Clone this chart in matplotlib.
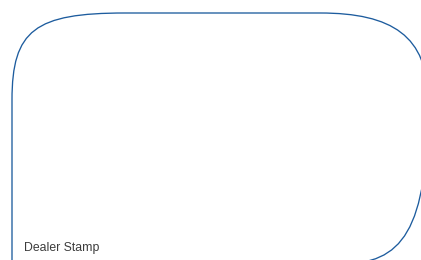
import matplotlib
matplotlib.use("Agg")
import matplotlib.pyplot as plt
from matplotlib.path import Path
from matplotlib.patches import PathPatch

W, H = 421, 260
label = "Dealer Stamp"
line_color = "#1d5c9e"
text_color = "#3c3c3c"

# outline vertices in pixel space (y down)
verts = [
    (12, 275),
    (12, 100),
    (12, 30), (35, 13), (125, 13),
    (320, 13),
    (392, 13), (428, 36), (428, 100),
    (428, 160),
    (428, 232), (402, 264), (340, 264),
]
codes = [Path.MOVETO, Path.LINETO,
         Path.CURVE4, Path.CURVE4, Path.CURVE4,
         Path.LINETO,
         Path.CURVE4, Path.CURVE4, Path.CURVE4,
         Path.LINETO,
         Path.CURVE4, Path.CURVE4, Path.CURVE4]

fig = plt.figure(figsize=(W / 100, H / 100), dpi=100)
ax = fig.add_axes([0, 0, 1, 1])
ax.set_xlim(0, W)
ax.set_ylim(H, 0)
ax.axis("off")

ax.add_patch(PathPatch(Path(verts, codes), facecolor="none",
                       edgecolor=line_color, lw=0.95, capstyle="butt"))
ax.text(24.5, 251, label, fontsize=8.8, color=text_color,
        family=["Liberation Sans", "DejaVu Sans"], ha="left", va="baseline")

fig.savefig("out.png", dpi=100)
